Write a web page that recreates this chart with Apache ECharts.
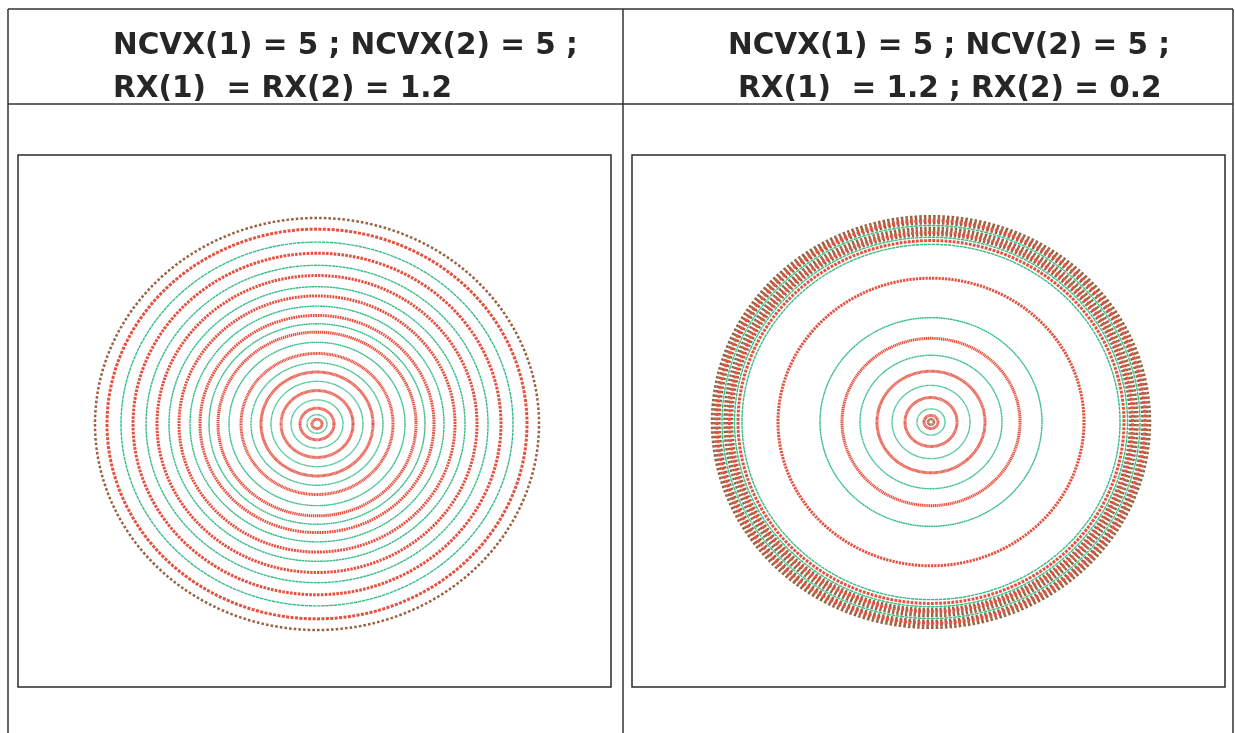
<!DOCTYPE html>
<html>
<head>
<meta charset="utf-8">
<title>Radial grid distributions</title>
<script src="https://cdn.jsdelivr.net/npm/echarts@6/dist/echarts.min.js"></script>
<style>
  html, body { margin: 0; padding: 0; background: #ffffff; }
  #chart { width: 1235px; height: 733px; }
</style>
</head>
<body>
<div id="chart"></div>
<script>
// Header text of each cell
const leftTitle = ['NCVX(1) = 5 ; NCVX(2) = 5 ;', 'RX(1)  = RX(2) = 1.2'];
const rightTitle = ['NCVX(1) = 5 ; NCV(2) = 5 ;', 'RX(1)  = 1.2 ; RX(2) = 0.2'];

// Ring radii (outer to inner) and ring type: B = boundary, R = cell centre, G = cell face
const leftRadii = [222, 210, 196, 184, 171, 160, 148, 138, 127, 117, 108, 99, 88, 76, 66, 56, 46, 36, 26, 17, 10, 5];
const leftKinds = ['B', 'R', 'G', 'R', 'G', 'R', 'G', 'R', 'G', 'R', 'G', 'R', 'G', 'R', 'G', 'R', 'G', 'R', 'G', 'R', 'G', 'R'];

const rightRadii = [219, 216.5, 214, 211.5, 209, 206.5, 204, 201.5, 199, 196.5, 193, 189, 153, 111, 89, 71, 54, 39, 26, 14, 7, 3];
const rightKinds = ['B', 'B', 'R', 'B', 'G', 'B', 'B', 'R', 'B', 'G', 'R', 'G', 'R', 'G', 'R', 'G', 'R', 'G', 'R', 'G', 'R', 'B'];

// Points per ring in the angular direction
const DOTS = 288;

const kindIndex = { B: 0, R: 1, G: 2 };
const kindStyle = [
  { color: '#9a6040', width: 2.5, fill: 0.55 },
  { color: '#e5503f', width: 3.0, fill: 0.68 },
  { color: '#35bd85', width: 1.4, fill: 0.85 }
];

function ringData(radii, kinds) {
  return radii.map((r, i) => [r, kindIndex[kinds[i]]]);
}

function renderRing(params, api) {
  const r = api.value(0);
  const k = api.value(1);
  const c = api.coord([0, 0]);
  const a = api.coord([r, 0])[0] - c[0];
  const b = c[1] - api.coord([0, r])[1];
  const seg = 360;
  const pts = [];
  for (let i = 0; i < seg; i++) {
    const t = (2 * Math.PI * i) / seg;
    pts.push([c[0] + a * Math.cos(t), c[1] - b * Math.sin(t)]);
  }
  const perim = Math.PI * (3 * (a + b) - Math.sqrt((3 * a + b) * (a + 3 * b)));
  const period = perim / DOTS;
  const st = kindStyle[k];
  const on = Math.max(0.9, period * st.fill);
  return {
    type: 'polygon',
    silent: true,
    shape: { points: pts },
    style: {
      fill: null,
      stroke: st.color,
      lineWidth: st.width,
      lineDash: [on, Math.max(0.3, period - on)]
    }
  };
}

const chart = echarts.init(document.getElementById('chart'), null, { renderer: 'canvas' });

const titleFont = {
  fontFamily: 'DejaVu Sans',
  fontWeight: 'bold',
  fontSize: 29.5,
  fill: '#262626'
};

const lineStyle = { stroke: '#333333', lineWidth: 1.5 };

const option = {
  backgroundColor: '#ffffff',
  animation: false,
  grid: [
    { left: 18, top: 155, width: 593, height: 532, show: true, borderColor: '#2b2b2b', borderWidth: 1.5, backgroundColor: '#ffffff' },
    { left: 632, top: 155, width: 593, height: 532, show: true, borderColor: '#2b2b2b', borderWidth: 1.5, backgroundColor: '#ffffff' }
  ],
  xAxis: [
    { gridIndex: 0, type: 'value', min: -299, max: 294, show: false },
    { gridIndex: 1, type: 'value', min: -299, max: 294, show: false }
  ],
  yAxis: [
    { gridIndex: 0, type: 'value', min: -263 / 0.928, max: 269 / 0.928, show: false },
    { gridIndex: 1, type: 'value', min: -265 / 0.94, max: 267 / 0.94, show: false }
  ],
  series: [
    {
      type: 'custom',
      xAxisIndex: 0, yAxisIndex: 0,
      renderItem: renderRing,
      data: ringData(leftRadii, leftKinds)
    },
    {
      type: 'custom',
      xAxisIndex: 1, yAxisIndex: 1,
      renderItem: renderRing,
      data: ringData(rightRadii, rightKinds)
    }
  ],
  graphic: [
    // table rules
    { type: 'line', shape: { x1: 8, y1: 9, x2: 1233, y2: 9 }, style: lineStyle },
    { type: 'line', shape: { x1: 8, y1: 104, x2: 1233, y2: 104 }, style: lineStyle },
    { type: 'line', shape: { x1: 8, y1: 9, x2: 8, y2: 733 }, style: lineStyle },
    { type: 'line', shape: { x1: 623, y1: 9, x2: 623, y2: 733 }, style: lineStyle },
    { type: 'line', shape: { x1: 1233, y1: 9, x2: 1233, y2: 733 }, style: lineStyle },
    // cell headers
    { type: 'text', left: 113, top: 31, style: Object.assign({ text: leftTitle[0] }, titleFont) },
    { type: 'text', left: 113, top: 74, style: Object.assign({ text: leftTitle[1] }, titleFont) },
    { type: 'text', left: 728, top: 31, style: Object.assign({ text: rightTitle[0] }, titleFont) },
    { type: 'text', left: 738, top: 74, style: Object.assign({ text: rightTitle[1] }, titleFont) }
  ]
};

chart.setOption(option);
</script>
</body>
</html>
